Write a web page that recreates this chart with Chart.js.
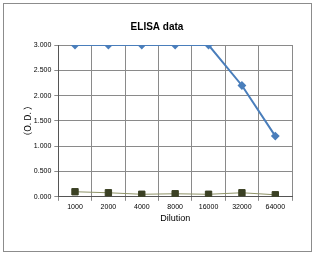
<!DOCTYPE html>
<html>
<head>
<meta charset="utf-8">
<script src="https://cdn.jsdelivr.net/npm/chart.js@4/dist/chart.umd.min.js"></script>
<style>
  html, body { margin: 0; padding: 0; background: #fff; }
  #wrap { width: 316px; height: 256px; }
</style>
</head>
<body>
<div id="wrap"><canvas id="elisaChart" width="316" height="256"></canvas></div>
<script>
// Data
const dilutions = ['1000', '2000', '4000', '8000', '16000', '32000', '64000'];
const sampleOD = [3.0, 3.0, 3.0, 3.0, 3.0, 2.2, 1.2];
const blankOD = [0.10, 0.08, 0.05, 0.06, 0.05, 0.08, 0.04];

// 외곽 테두리
const frameBorder = {
    id: 'frameBorder',
    beforeDraw(chart) {
        const c = chart.ctx;
        c.save();
        c.fillStyle = '#ffffff';
        c.fillRect(0, 0, chart.width, chart.height);
        c.strokeStyle = '#8c8c8c';
        c.lineWidth = 1;
        c.strokeRect(3.5, 3.5, 308, 248);
        c.restore();
    }
};

const fontFamily = '"Liberation Sans", Arial, sans-serif';

new Chart(document.getElementById('elisaChart'), {
    type: 'line',
    data: {
        labels: dilutions,
        datasets: [
            {
                label: 'sample',
                data: sampleOD,
                borderColor: '#4a7ebb',
                backgroundColor: '#4a7ebb',
                borderWidth: 2,
                pointStyle: 'rectRot',
                pointRadius: 3,
                tension: 0
            },
            {
                label: 'blank',
                data: blankOD,
                borderColor: '#8f9368',
                backgroundColor: '#3b4124',
                pointBorderColor: '#3b4124',
                borderWidth: 1,
                pointStyle: 'rect',
                pointRadius: 4.5,
                tension: 0
            }
        ]
    },
    options: {
        responsive: false,
        animation: false,
        layout: { padding: { left: 22, right: 24, top: 17, bottom: 28 } },
        plugins: {
            legend: { display: false },
            tooltip: { enabled: false },
            title: {
                display: true,
                text: 'ELISA data',
                color: '#000',
                font: { family: fontFamily, size: 10, weight: 'bold' },
                padding: { top: 4, bottom: 12 }
            }
        },
        scales: {
            x: {
                offset: true,
                grid: { offset: true, color: '#8a8a8a', tickLength: 4 },
                border: { color: '#555' },
                ticks: { color: '#000', font: { family: fontFamily, size: 7 }, padding: 2, maxRotation: 0 },
                title: {
                    display: true,
                    text: 'Dilution',
                    color: '#000',
                    font: { family: fontFamily, size: 9 },
                    padding: { top: 0, bottom: 4 }
                }
            },
            y: {
                min: 0,
                max: 3,
                grid: { color: '#8a8a8a', tickLength: 4 },
                border: { color: '#555' },
                ticks: {
                    stepSize: 0.5,
                    color: '#000',
                    font: { family: fontFamily, size: 7 },
                    padding: 3,
                    callback: value => value.toFixed(3)
                },
                title: {
                    display: true,
                    text: '（O. D. ）',
                    color: '#000',
                    font: { family: '"Noto Sans CJK JP", ' + fontFamily, size: 9 },
                    padding: { top: 0, bottom: -2 }
                }
            }
        }
    },
    plugins: [frameBorder]
});
</script>
</body>
</html>
